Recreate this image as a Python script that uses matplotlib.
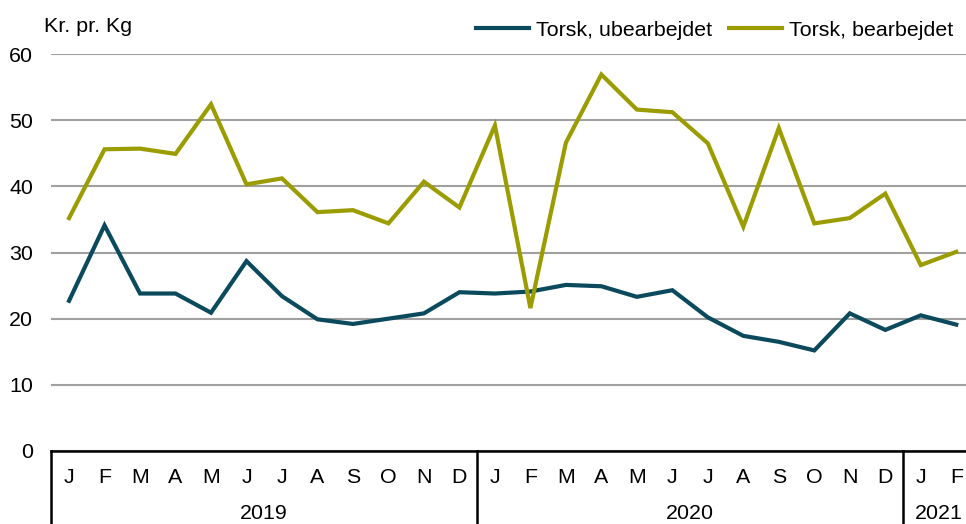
import numpy as np
import matplotlib
matplotlib.use("Agg")
import matplotlib.pyplot as plt
from matplotlib.transforms import blended_transform_factory

plt.rcParams['font.family'] = ['Liberation Sans', 'DejaVu Sans']

maaneder = ["J", "F", "M", "A", "M", "J", "J", "A", "S", "O", "N", "D"] * 2 + ["J", "F"]
aar = ["2019", "2020", "2021"]
aar_midte = [5.5, 17.5, 24.5]
aar_skift = [-0.5, 11.5, 23.5]

ubearbejdet = [22.7, 34.1, 23.8, 23.8, 20.9, 28.7, 23.4, 19.9, 19.2, 20.0, 20.8, 24.0,
               23.8, 24.1, 25.1, 24.9, 23.3, 24.3, 20.2, 17.4, 16.5, 15.2, 20.8, 18.3,
               20.5, 19.1]
bearbejdet = [35.2, 45.6, 45.7, 44.9, 52.4, 40.3, 41.2, 36.1, 36.4, 34.4, 40.7, 36.8,
              49.2, 21.6, 46.6, 56.9, 51.6, 51.2, 46.5, 33.9, 48.8, 34.4, 35.2, 38.9,
              28.1, 30.1]

teal = "#0b4a5c"
oliven = "#9a9c00"
fs = 15.4

fig = plt.figure(figsize=(9.66, 5.24), dpi=100)
ax = fig.add_axes([51.3 / 966, 73 / 524, (974 - 51.3) / 966, 397 / 524])

x = np.arange(len(maaneder))
ax.plot(x, ubearbejdet, color=teal, lw=3, label="Torsk, ubearbejdet", solid_joinstyle='miter', zorder=3)
ax.plot(x, bearbejdet, color=oliven, lw=3, label="Torsk, bearbejdet", solid_joinstyle='miter', zorder=3)

ax.set_xlim(-0.5, len(maaneder) - 0.5)
ax.set_ylim(0, 60)
ax.set_yticks(range(0, 61, 10))
ax.yaxis.grid(True, color="#a0a0a0", lw=1.5)
ax.set_axisbelow(True)
ax.tick_params(axis='y', length=0, pad=13, labelsize=fs)
ax.set_xticks([])
for s in ["top", "right", "left"]:
    ax.spines[s].set_visible(False)
ax.spines["bottom"].set_linewidth(1.8)
ax.spines["bottom"].set_color("black")

trans = blended_transform_factory(ax.transData, ax.transAxes)
for xi, m in zip(x, maaneder):
    ax.text(xi, -32.3 / 397, m, transform=trans, ha='center', va='baseline', fontsize=fs)
for xm, a in zip(aar_midte, aar):
    ax.text(xm, -68 / 397, a, transform=trans, ha='center', va='baseline', fontsize=fs)
for xs in aar_skift:
    ax.plot([xs, xs], [0, -80 / 397], transform=trans, color="black", lw=1.8, clip_on=False)

fig.text(44 / 966, 1 - 32 / 524, "Kr. pr. Kg", ha='left', va='baseline', fontsize=fs)

fig.legend(loc='center right', bbox_to_anchor=(953 / 966, 1 - 30 / 524), ncol=2,
           frameon=False, fontsize=fs, handlelength=2.5, handletextpad=0.3,
           columnspacing=0.8, borderpad=0, borderaxespad=0)

fig.savefig("out.png", dpi=100)
